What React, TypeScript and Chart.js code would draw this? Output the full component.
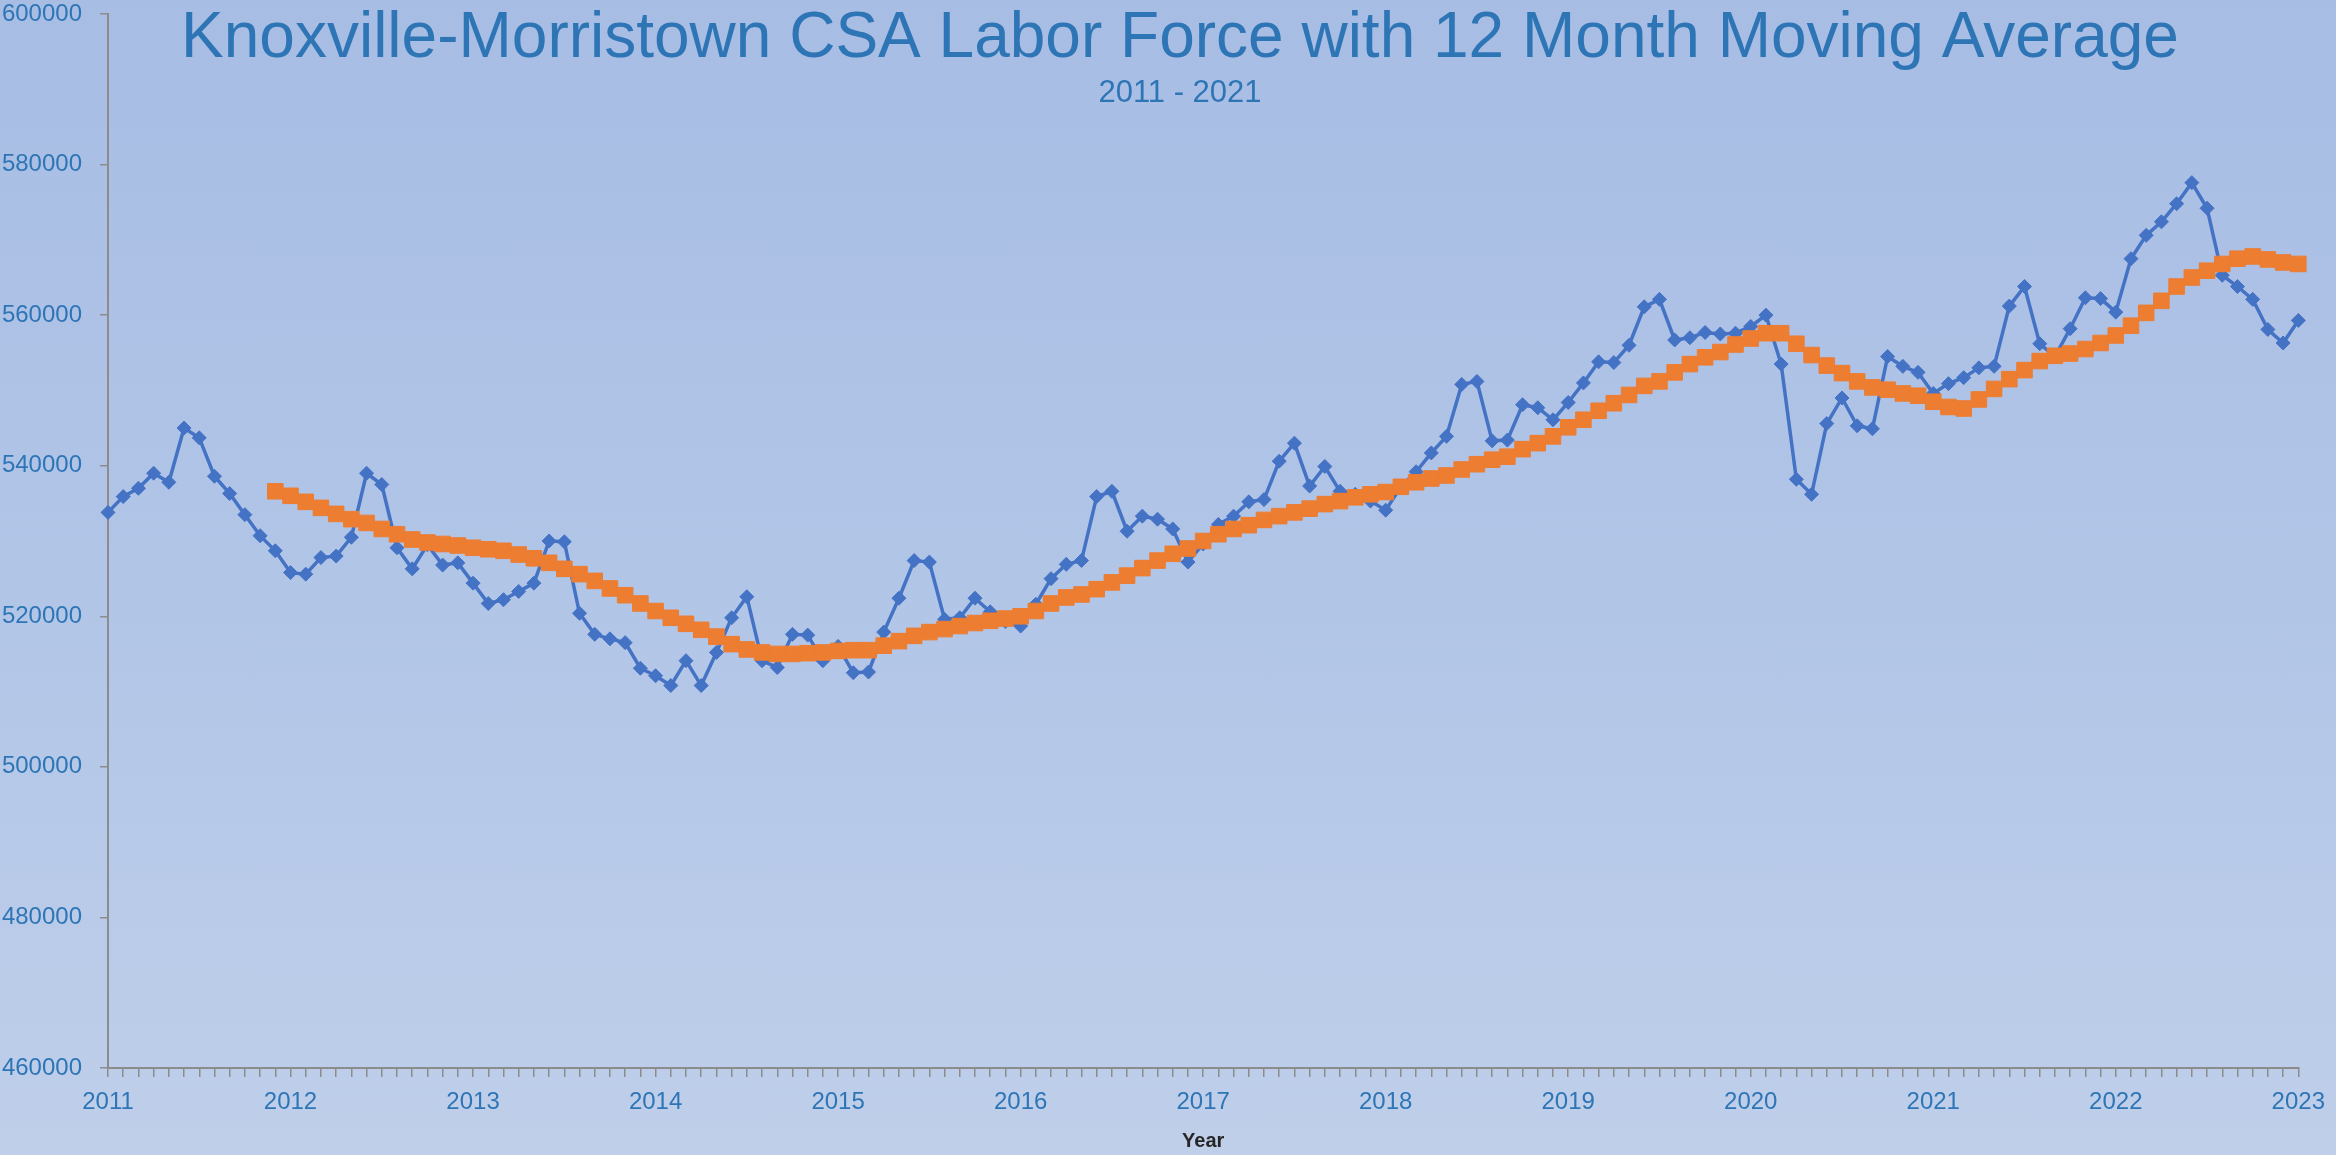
import React, { useEffect, useRef } from 'react';
import { Chart, registerables } from 'chart.js';

Chart.register(...registerables);

const years = [2011, 2012, 2013, 2014, 2015, 2016, 2017, 2018, 2019, 2020, 2021, 2022, 2023];
const monthNames = ['Jan', 'Feb', 'Mar', 'Apr', 'May', 'Jun', 'Jul', 'Aug', 'Sep', 'Oct', 'Nov', 'Dec'];

const laborForce = [
  533800, 535900, 537000, 539000, 537800, 545000, 543700, 538600, 536300, 533500, 530700, 528700,
  525800, 525600, 527800, 528000, 530500, 539000, 537500, 529100, 526300, 529500, 526800, 527100,
  524400, 521700, 522200, 523300, 524400, 530000, 529900, 520400, 517600, 517000, 516500, 513100,
  512100, 510800, 514100, 510800, 515200, 519800, 522600, 514100, 513200, 517600, 517500, 514100,
  516000, 512500, 512600, 517900, 522400, 527400, 527200, 519600, 519800, 522400, 520600, 519300,
  518700, 521600, 525000, 526900, 527400, 535900, 536600, 531300, 533300, 532900, 531600, 527200,
  529600, 532200, 533300, 535200, 535500, 540600, 543000, 537300, 539900, 536600, 536200, 535300,
  534100, 537200, 539200, 541700, 543900, 550800, 551200, 543300, 543400, 548100, 547700, 546100,
  548400, 551000, 553800, 553700, 556000, 561100, 562100, 556700, 557000, 557700, 557500, 557600,
  558500, 560000, 553500, 538200, 536200, 545600, 549000, 545300, 544900, 554500, 553200, 552400,
  549600, 550900, 551700, 553000, 553200, 561200, 563800, 556200, 554500, 558200, 562300, 562200,
  560400, 567500, 570600, 572400, 574800, 577600, 574200, 565300, 563800, 562100, 558100, 556300,
  559300,
];

const movingAverage = [
  null, null, null, null, null, null, null, null, null, null, null, 536600,
  536000, 535200, 534400, 533600, 532900, 532400, 531600, 530900, 530200, 529800, 529600, 529400,
  529100, 528900, 528700, 528200, 527700, 527100, 526300, 525600, 524700, 523700, 522800, 521700,
  520700, 519800, 519000, 518200, 517300, 516300, 515600, 515200, 515000, 515000, 515100, 515200,
  515400, 515500, 515500, 516100, 516700, 517400, 517900, 518300, 518700, 519100, 519400, 519700,
  520000, 520700, 521700, 522500, 522900, 523600, 524500, 525400, 526400, 527400, 528300, 529000,
  530000, 530900, 531600, 532100, 532800, 533300, 533800, 534300, 534900, 535300, 535800, 536200,
  536500, 537200, 537800, 538300, 538700, 539500, 540200, 540800, 541200, 542200, 543000, 543900,
  545100, 546100, 547300, 548300, 549400, 550600, 551200, 552400, 553500, 554400, 555100, 556100,
  556900, 557600, 557600, 556200, 554700, 553300, 552300, 551200, 550400, 550100, 549600, 549300,
  548500, 547800, 547600, 548800, 550200, 551500, 552700, 553900, 554600, 554900, 555500, 556300,
  557300, 558600, 560300, 561900, 563800, 565000, 565900, 566800, 567500, 567800, 567400, 567000,
  566800,
];

const yMin = 460000;
const yMax = 600000;
const yStep = 20000;

const titleText = 'Knoxville-Morristown CSA Labor Force with 12 Month Moving Average';
const subtitleText = '2011 - 2021';
const xAxisTitle = 'Year';

const FONT = "'Liberation Sans', Arial, sans-serif";
const TEXT_BLUE = '#2E75B6';
const AXIS_GRAY = '#8C8C8C';

const categoryLabels: string[] = laborForce.map((_, i) => `${monthNames[i % 12]} ${years[Math.floor(i / 12)]}`);

const titlePlugin = {
  id: 'customTitle',
  afterDraw(chart: any) {
    const ctx = chart.ctx;
    ctx.save();
    ctx.fillStyle = TEXT_BLUE;
    ctx.textAlign = 'center';
    ctx.textBaseline = 'alphabetic';
    ctx.font = `64px ${FONT}`;
    ctx.fillText(titleText, 1180, 57);
    ctx.font = `31px ${FONT}`;
    ctx.fillText(subtitleText, 1180, 102);
    ctx.restore();
  },
};

export default function App() {
  const canvasRef = useRef<HTMLCanvasElement | null>(null);

  useEffect(() => {
    if (!canvasRef.current) return;
    const chart = new Chart(canvasRef.current, {
      type: 'line',
      data: {
        labels: categoryLabels,
        datasets: [
          {
            label: '12 Month Moving Average',
            data: movingAverage,
            order: 0,
            borderColor: '#ED7D31',
            backgroundColor: '#ED7D31',
            borderWidth: 3,
            pointStyle: 'rect',
            pointRadius: 11,
            pointBorderWidth: 1,
            pointBorderColor: '#ED7D31',
            pointBackgroundColor: '#ED7D31',
            tension: 0,
            spanGaps: false,
          },
          {
            label: 'Labor Force',
            data: laborForce,
            order: 1,
            borderColor: '#4472C4',
            backgroundColor: '#4472C4',
            borderWidth: 3.5,
            pointStyle: 'rectRot',
            pointRadius: 7,
            pointBorderWidth: 1,
            pointBorderColor: '#4472C4',
            pointBackgroundColor: '#4472C4',
            tension: 0,
          },
        ],
      },
      options: {
        animation: false,
        responsive: false,
        devicePixelRatio: 1,
        layout: { padding: { top: 14, right: 28, left: 0, bottom: 0 } },
        plugins: {
          legend: { display: false },
          tooltip: { enabled: false },
          title: { display: false },
        },
        scales: {
          x: {
            type: 'category',
            offset: false,
            grid: {
              display: true,
              drawOnChartArea: false,
              drawTicks: true,
              tickLength: 9,
              color: AXIS_GRAY,
              lineWidth: 1.5,
              offset: false,
            },
            border: { display: true, color: AXIS_GRAY, width: 2 },
            ticks: {
              autoSkip: false,
              maxRotation: 0,
              minRotation: 0,
              padding: 11,
              color: TEXT_BLUE,
              font: { family: FONT, size: 24 },
              callback: (_v: any, i: number) => (i % 12 === 0 ? String(years[i / 12]) : ''),
            },
            title: {
              display: true,
              text: xAxisTitle,
              color: '#262626',
              font: { family: FONT, size: 20, weight: 'bold' },
              padding: { top: 0, bottom: 2 },
            },
            afterFit: (s: any) => {
              s.height = 87;
            },
          },
          y: {
            min: yMin,
            max: yMax,
            grid: {
              display: true,
              drawOnChartArea: false,
              drawTicks: true,
              tickLength: 8,
              color: AXIS_GRAY,
              lineWidth: 1.5,
            },
            border: { display: true, color: AXIS_GRAY, width: 2 },
            ticks: {
              stepSize: yStep,
              padding: 18,
              color: TEXT_BLUE,
              font: { family: FONT, size: 24 },
              callback: (v: any) => String(v),
            },
            afterFit: (s: any) => {
              s.width = 108;
              s.paddingTop = 0;
              s.paddingBottom = 0;
            },
          },
        },
      },
      plugins: [titlePlugin],
    } as any);
    return () => chart.destroy();
  }, []);

  return (
    <div
      style={{
        position: 'fixed',
        left: 0,
        top: 0,
        width: 2336,
        height: 1155,
        background: 'linear-gradient(to bottom, #A8BDE4 0%, #B1C5E7 50%, #BFCFEA 100%)',
      }}
    >
      <canvas ref={canvasRef} width={2336} height={1155} style={{ width: 2336, height: 1155, display: 'block' }} />
    </div>
  );
}
